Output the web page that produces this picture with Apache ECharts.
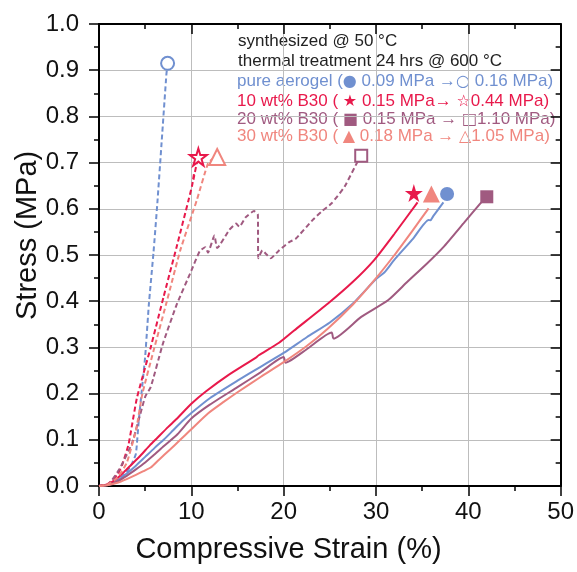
<!DOCTYPE html>
<html lang="en">
<head>
    <meta charset="UTF-8">
    <script src="https://cdn.jsdelivr.net/npm/echarts@6/dist/echarts.min.js"></script>
    <title>Stress vs Compressive Strain</title>
    <style>
        html, body { margin: 0; padding: 0; background: #fff; }
        #chart { width: 577px; height: 572px; }
    </style>
</head>
<body>
<div id="chart"></div>
<script type="text/javascript">
    // axis ticks
    var xTicks = [0, 10, 20, 30, 40, 50];
    var yTicks = [0.0, 0.1, 0.2, 0.3, 0.4, 0.5, 0.6, 0.7, 0.8, 0.9, 1.0];

    // sample names and colours
    var names = ['pure aerogel', '10 wt% B30', '20 wt% B30', '30 wt% B30'];
    var colors = ['#7090d0', '#e8194b', '#a05a80', '#f0867e'];

    // synthesized @ 50 °C (solid)
    var pureSolid = [[0,0],[1,0.003],[2,0.012],[3,0.027],[4,0.044],[5,0.063],[6,0.082],[7,0.1],[8,0.12],[9,0.14],[10,0.158],[12,0.19],[15,0.228],[17.5,0.258],[20,0.288],[22.5,0.322],[25,0.354],[27.5,0.395],[30,0.448],[30.9,0.462],[32,0.49],[34,0.535],[35.7,0.576],[35.9,0.575],[36.2,0.584],[37.3,0.614]];
    var b10Solid = [[0,0],[1,0.004],[2,0.017],[2.7,0.03],[3.5,0.046],[4.5,0.066],[5.5,0.088],[6.3,0.104],[7.5,0.128],[8.4,0.145],[10,0.178],[11.6,0.205],[14,0.24],[17,0.278],[17.3,0.283],[19.5,0.31],[21.1,0.336],[24.8,0.395],[27.5,0.442],[29.8,0.489],[32,0.546],[34.5,0.614]];
    var b20Solid = [[0,0],[1,0.002],[2,0.01],[3,0.022],[4,0.036],[5,0.051],[6,0.068],[7,0.086],[8.5,0.112],[10,0.146],[12,0.176],[15,0.214],[17.5,0.246],[20,0.279],[20.2,0.267],[22.5,0.296],[25.2,0.332],[25.4,0.319],[28.4,0.366],[31.3,0.402],[33.4,0.442],[35.5,0.481],[37.3,0.517],[39.5,0.569],[41.4,0.614]];
    var b30Solid = [[0,0],[1,0.002],[2,0.007],[3,0.015],[4,0.024],[5,0.034],[5.6,0.04],[6.5,0.057],[7.7,0.079],[8.8,0.1],[9.85,0.12],[11.8,0.157],[13.5,0.182],[15,0.203],[17.5,0.236],[20,0.268],[22.5,0.303],[24.8,0.341],[27.5,0.393],[29.8,0.445],[32,0.5],[34,0.554],[35.7,0.601]];

    // thermal treatment 24 hrs @ 600 °C (dashed)
    var pureDash = [[0,0],[1,0.003],[2,0.012],[3,0.03],[3.6,0.05],[4.0,0.07],[4.3,0.14],[4.6,0.2],[5.0,0.28],[5.4,0.393],[5.9,0.505],[6.3,0.607],[6.8,0.749],[7.3,0.891],[7.43,0.915]];
    var b10Dash = [[0,0],[1,0.005],[2,0.025],[2.5,0.045],[3.2,0.09],[4.1,0.19],[5.6,0.3],[7.0,0.41],[8.4,0.517],[9.7,0.619],[10.1,0.652],[10.3,0.678],[10.2,0.66],[10.6,0.7],[10.76,0.712]];
    var b20Dash = [[0,0],[1,0.003],[2.2,0.036],[3.6,0.094],[5.0,0.193],[5.6,0.214],[6.8,0.3],[7.0,0.313],[8.4,0.392],[10,0.466],[10.9,0.508],[11.5,0.517],[11.8,0.505],[12.5,0.542],[12.8,0.515],[14.1,0.554],[14.85,0.568],[15.2,0.561],[15.9,0.582],[16.8,0.595],[17.2,0.588],[17.25,0.493],[17.7,0.51],[18.1,0.502],[18.6,0.493],[19.5,0.51],[20.6,0.528],[21.3,0.535],[23.1,0.575],[24.1,0.594],[25.2,0.612],[26.6,0.648],[28.0,0.702],[28.4,0.715]];
    var b30Dash = [[0,0],[1,0.004],[2,0.018],[3,0.05],[4,0.12],[4.7,0.2],[5.9,0.292],[7.35,0.4],[8.8,0.51],[10.6,0.619],[11.8,0.698],[12.4,0.71]];

    // end markers
    var solidEnds = [[37.7,0.632],[34.1,0.634],[42.0,0.626],[36.0,0.632]];
    var openEnds = [[7.43,0.915],[10.76,0.712],[28.4,0.715],[12.8,0.712]];

    var legendHead = ['synthesized @ 50 °C', 'thermal treatment 24 hrs @ 600 °C'];
    var legendRows = [
        'pure aerogel ({s|\u25CF} 0.09 MPa \u2192{s|\u25CB} 0.16 MPa)',
        '10 wt% B30 ( {s|\u2605} 0.15 MPa\u2192 {s|\u2606}0.44 MPa)',
        '20 wt% B30 ( {s|\u25A0} 0.15 MPa \u2192 {s|\u25A1}1.10 MPa)',
        '30 wt% B30 ( {s|\u25B2} 0.18 MPa \u2192 {s|\u25B3}1.05 MPa)'
    ];

    var starPath = 'path://M50,0 L61,35 L98,35 L68,57 L79,91 L50,70 L21,91 L32,57 L2,35 L39,35 Z';
    var symbols = ['circle', starPath, 'rect', 'triangle'];
    var symSizes = [14, 18, 13, 17];
    var font = '"Liberation Sans", Arial, sans-serif';

    var myChart = echarts.init(document.getElementById('chart'));

    var solidData = [pureSolid, b10Solid, b20Solid, b30Solid];
    var dashData = [pureDash, b10Dash, b20Dash, b30Dash];
    var series = [];
    for (var i = 0; i < 4; i++) {
        series.push({
            name: names[i] + ' solid',
            type: 'line',
            data: solidData[i],
            showSymbol: false,
            smooth: 0.2,
            lineStyle: { color: colors[i], width: 2 },
            z: 3
        });
        series.push({
            name: names[i] + ' dashed',
            type: 'line',
            data: dashData[i],
            showSymbol: false,
            smooth: 0.15,
            lineStyle: { color: colors[i], width: 2, type: [5, 3] },
            z: 3
        });
    }
    for (var j = 0; j < 4; j++) {
        series.push({
            type: 'scatter',
            data: [solidEnds[j]],
            symbol: symbols[j],
            symbolSize: symSizes[j],
            itemStyle: { color: colors[j], opacity: 1 },
            z: 5
        });
        series.push({
            type: 'scatter',
            data: [openEnds[j]],
            symbol: symbols[j],
            symbolSize: symSizes[j] - 1,
            itemStyle: { color: '#fff', borderColor: colors[j], borderWidth: 2, opacity: 1 },
            z: 5
        });
    }

    var graphics = [];
    legendHead.forEach(function (t, k) {
        graphics.push({
            type: 'text', left: 238, top: 33 + k * 20,
            style: { text: t, fill: '#222', font: '17px ' + font }
        });
    });
    legendRows.forEach(function (t, k) {
        graphics.push({
            type: 'text', left: 237, top: [73, 93, 111, 128][k],
            style: {
                text: t, fill: colors[k], font: '17px ' + font,
                rich: { s: { fontSize: 16, fill: colors[k], fontFamily: 'DejaVu Sans' } }
            }
        });
    });
    graphics.push({
        type: 'text', left: 'center', top: 535,
        style: { text: 'Compressive Strain (%)', fill: '#111', font: '29px ' + font, x: 40 }
    });
    graphics.push({
        type: 'text', x: 13, y: 320, rotation: Math.PI / 2,
        style: { text: 'Stress (MPa)', fill: '#111', font: '29px ' + font }
    });

    var axisBase = {
        type: 'value',
        axisLine: { show: true, onZero: false, lineStyle: { color: '#000', width: 2 } },
        minorTick: { show: true, splitNumber: 2, length: 5, lineStyle: { color: '#000', width: 1.5 } },
        minorSplitLine: { show: false }
    };

    var option = {
        animation: false,
        backgroundColor: '#fff',
        grid: { left: 99, right: 14, top: 24, bottom: 86, containLabel: false },
        graphic: graphics,
        xAxis: [
            echarts.util.merge({
                min: xTicks[0], max: xTicks[xTicks.length - 1], interval: 10, position: 'bottom',
                axisTick: { show: true, inside: false, length: 10, lineStyle: { color: '#000', width: 1.5 } },
                splitLine: { show: true, lineStyle: { color: '#bdbdbd', width: 1 } },
                axisLabel: { fontSize: 24, color: '#111', margin: 14, fontFamily: font }
            }, axisBase, true),
            echarts.util.merge({
                min: xTicks[0], max: xTicks[xTicks.length - 1], interval: 10, position: 'top',
                axisTick: { show: true, inside: true, length: 10, lineStyle: { color: '#000', width: 1.5 } },
                splitLine: { show: false },
                axisLabel: { show: false }
            }, axisBase, true)
        ],
        yAxis: [
            echarts.util.merge({
                min: yTicks[0], max: yTicks[yTicks.length - 1], interval: 0.1, position: 'left',
                axisTick: { show: true, inside: false, length: 10, lineStyle: { color: '#000', width: 1.5 } },
                splitLine: { show: true, lineStyle: { color: '#bdbdbd', width: 1 } },
                axisLabel: {
                    fontSize: 24, color: '#111', margin: 20, fontFamily: font,
                    formatter: function (v) { return v.toFixed(1); }
                }
            }, axisBase, true),
            echarts.util.merge({
                min: yTicks[0], max: yTicks[yTicks.length - 1], interval: 0.1, position: 'right',
                axisTick: { show: true, inside: true, length: 10, lineStyle: { color: '#000', width: 1.5 } },
                splitLine: { show: false },
                axisLabel: { show: false }
            }, axisBase, true)
        ],
        series: series
    };
    myChart.setOption(option);
</script>
</body>
</html>
